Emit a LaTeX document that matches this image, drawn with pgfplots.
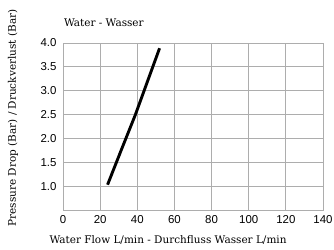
\documentclass[border=0pt]{standalone}
\usepackage{fontspec}
\setmainfont{DejaVu Serif}
\newfontfamily\tickfont{Liberation Sans}
\usepackage{pgfplots}
\pgfplotsset{compat=1.18}
\definecolor{gridgray}{gray}{0.68}
\begin{document}
\begin{tikzpicture}
\path[use as bounding box] (-63bp,-40bp) rectangle (271bp,210bp);
\begin{axis}[
  name=ax,
  scale only axis,
  width=260bp, height=167bp,
  xmin=0, xmax=140, ymin=0.5, ymax=4.0,
  xtick={0,20,...,140},
  ytick={1,1.5,2,2.5,3,3.5,4},
  grid=major,
  major grid style={gridgray, line width=0.9pt},
  axis line style={gridgray, line width=0.9pt},
  major tick length=0pt,
  /pgf/number format/assume math mode=true,
  ticklabel style={font=\tickfont\fontsize{11.5}{12}\selectfont},
  yticklabel style={/pgf/number format/fixed, /pgf/number format/fixed zerofill, /pgf/number format/precision=1, xshift=-3bp},
  xticklabel style={yshift=-2bp},
  xlabel={Water Flow L/min - Durchfluss Wasser L/min},
  ylabel={Pressure Drop (Bar) / Druckverlust (Bar)},
  xlabel style={font=\fontsize{10.5}{12}\selectfont, at={(axis description cs:0.404,-0.18)}, anchor=center},
  ylabel style={font=\fontsize{10.5}{12}\selectfont, at={(axis description cs:-0.192,0.551)}, anchor=center},
  title={Water - Wasser},
  title style={font=\fontsize{10.5}{12}\selectfont, at={(axis description cs:0.0,1.084)}, anchor=west, xshift=-2.5bp},
]
\addplot[black, line width=2.9pt, line cap=butt] coordinates {
  (24,1.03) (31,1.72) (39,2.5) (46,3.25) (52,3.89)
};
\end{axis}
\end{tikzpicture}
\end{document}
